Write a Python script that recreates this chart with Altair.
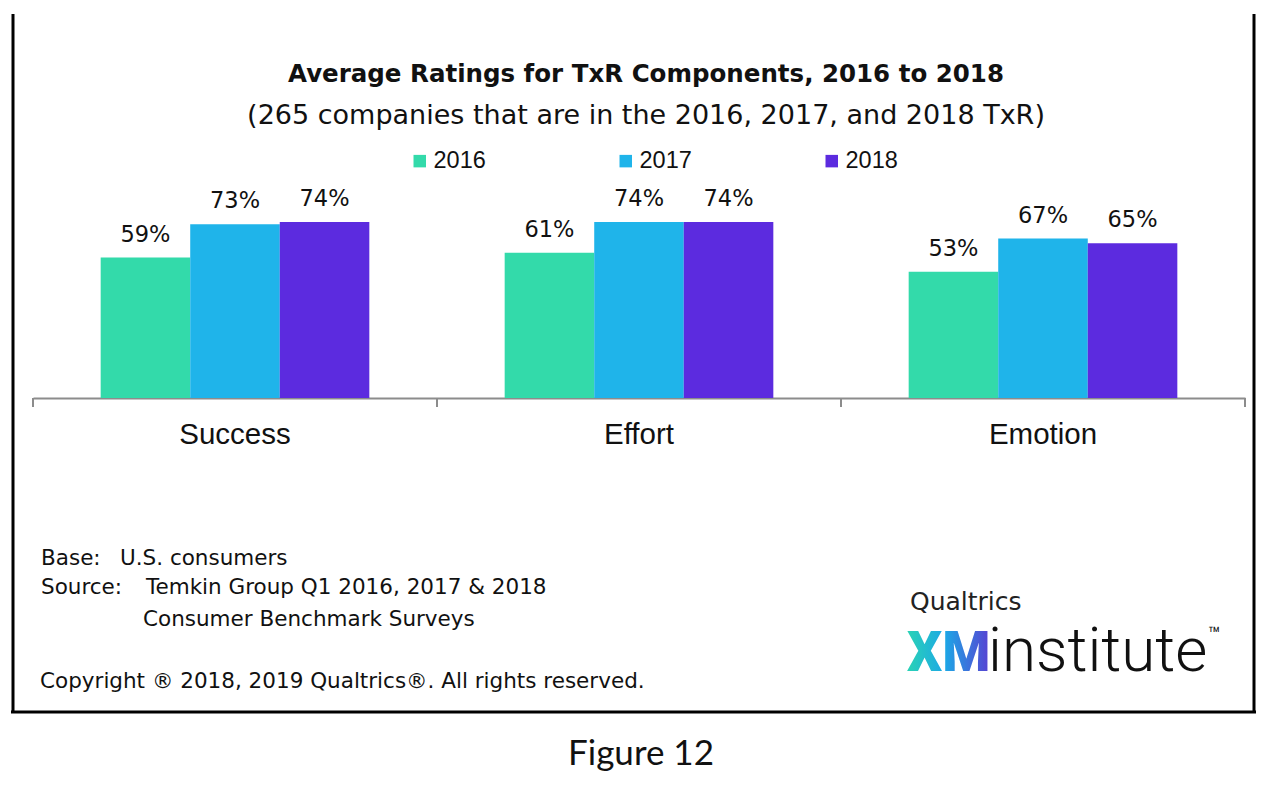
import altair as alt
import pandas as pd

categories = ["Success", "Effort", "Emotion"]
years = ["2016", "2017", "2018"]
values_2016 = [59, 61, 53]
values_2017 = [73, 74, 67]
values_2018 = [74, 74, 65]
colors = ["#33DAAA", "#1FB4EA", "#5C2BDF"]

title_text = "Average Ratings for TxR Components, 2016 to 2018"
subtitle_text = "(265 companies that are in the 2016, 2017, and 2018 TxR)"
footer_base = ["Base:", "U.S. consumers"]
footer_source = ["Source:", "Temkin Group Q1 2016, 2017 & 2018", "Consumer Benchmark Surveys"]
copyright_text = "Copyright \u00ae 2018, 2019 Qualtrics\u00ae. All rights reserved."
figure_text = "Figure 12"

rows = []
for i, c in enumerate(categories):
    for y, vals in zip(years, [values_2016, values_2017, values_2018]):
        rows.append({"Component": c, "Year": y, "Rating": vals[i], "Label": f"{vals[i]}%"})
df = pd.DataFrame(rows)

FONT = "Liberation Sans"
WIDE = "DejaVu Sans"
W, H = 1212, 238
P_IN, P_OUT = 0.335, 0.1675
STEP = W / (len(categories) - P_IN + 2 * P_OUT)
GAP_PX = STEP * P_IN / 2  # half of the inner padding, in pixels

xscale = alt.Scale(paddingInner=P_IN, paddingOuter=P_OUT)
x_axis = alt.Axis(title=None, labelAngle=0, labelFontSize=29.5, labelFont=FONT,
                  labelColor="#111111", labelBaseline="alphabetic", labelPadding=45,
                  domainColor="#8c8c8c", domainWidth=2, ticks=False, tickSize=0)

base = alt.Chart(df).encode(
    x=alt.X("Component:N", sort=categories, scale=xscale, axis=x_axis),
    xOffset=alt.XOffset("Year:N", sort=years, scale=alt.Scale(paddingInner=0, paddingOuter=0)),
    y=alt.Y("Rating:Q", scale=alt.Scale(domain=[0, 100]), axis=None),
)

bars = base.mark_bar().encode(
    color=alt.Color("Year:N", sort=years, scale=alt.Scale(domain=years, range=colors),
                    legend=alt.Legend(orient="none", legendX=375, legendY=-11,
                                      direction="horizontal", title=None,
                                      symbolType="square", symbolSize=156,
                                      symbolStrokeWidth=0, labelFontSize=23.5,
                                      labelFont=FONT, labelColor="#111111",
                                      columnPadding=128, labelOffset=2, padding=0))
)

labels = base.mark_text(baseline="alphabetic", dy=-16, fontSize=22.5, font=WIDE,
                        color="#111111").encode(text="Label:N")

tick_left = alt.Chart(df).mark_rule(color="#8c8c8c", strokeWidth=2, xOffset=-GAP_PX).encode(
    x=alt.X("Component:N", sort=categories, scale=xscale, axis=x_axis, bandPosition=0),
    y=alt.value(H), y2=alt.value(H + 9))
tick_right = alt.Chart(df).transform_filter(
    alt.datum.Component == categories[-1]
).mark_rule(color="#8c8c8c", strokeWidth=2, xOffset=GAP_PX).encode(
    x=alt.X("Component:N", sort=categories, scale=xscale, axis=x_axis, bandPosition=1),
    y=alt.value(H), y2=alt.value(H + 9))

one = alt.Data(values=[{}])


def txt(t, x, y, size, weight="normal", align="left", color="#111111", font=WIDE):
    return alt.Chart(one).mark_text(text=t, align=align, baseline="alphabetic", fontSize=size,
                                    fontWeight=weight, font=font, color=color).encode(
        x=alt.value(x), y=alt.value(y))


title = txt(title_text, 613, -78.5, 24.5, weight="bold", align="center")
subtitle = txt(subtitle_text, 613, -36, 27, align="center")

f1 = txt(footer_base[0], 8, 404.5, 21.5)
f2 = txt(footer_base[1], 87, 404.5, 21.5)
f3 = txt(footer_source[0], 8, 433.5, 21.5)
f4 = txt(footer_source[1], 113, 433.5, 21.5)
f5 = txt(footer_source[2], 110, 466, 21.5)
f6 = txt(copyright_text, 7, 528, 21.5)
fig = txt(figure_text, 608, 605, 35, align="center", font="Lato")

logo_q = txt("Qualtrics", 877, 449.5, 25, color="#222222")
grad = alt.LinearGradient(gradient="linear",
                          stops=[alt.GradientStop(offset=0, color="#2AD3B5"),
                                 alt.GradientStop(offset=0.45, color="#1CA8E6"),
                                 alt.GradientStop(offset=1, color="#5840D2")],
                          x1=0, x2=1, y1=0, y2=0)
logo_xm = alt.Chart(one).mark_text(text="XM", align="left", baseline="alphabetic", fontSize=55,
                                   fontWeight=900, font="Roboto",
                                   color=grad).encode(
    x=alt.value(874), y=alt.value(510.5))
logo_inst = txt("institute", 955, 510.5, 62, weight=300, color="#111111", font="Roboto")
logo_tm = txt("\u2122", 1175, 481, 20, color="#111111", font="Roboto")

frame_l = alt.Chart(one).mark_rule(color="black", strokeWidth=3).encode(
    x=alt.value(-20), y=alt.value(-146), y2=alt.value(553))
frame_r = alt.Chart(one).mark_rule(color="black", strokeWidth=3).encode(
    x=alt.value(1221), y=alt.value(-146), y2=alt.value(553))
frame_b = alt.Chart(one).mark_rule(color="black", strokeWidth=3).encode(
    x=alt.value(-22), x2=alt.value(1223), y=alt.value(552))

chart = alt.layer(
    bars, labels, tick_left, tick_right, title, subtitle, f1, f2, f3, f4, f5, f6, fig,
    logo_q, logo_xm, logo_inst, logo_tm, frame_l, frame_r, frame_b
).properties(
    width=W, height=H,
    autosize=alt.AutoSizeParams(type="none"),
    padding={"left": 25, "top": 152, "right": 31, "bottom": 390},
    background="white",
).configure_view(stroke=None)

chart.save("out.html", embed_options={"renderer": "svg", "actions": False})
